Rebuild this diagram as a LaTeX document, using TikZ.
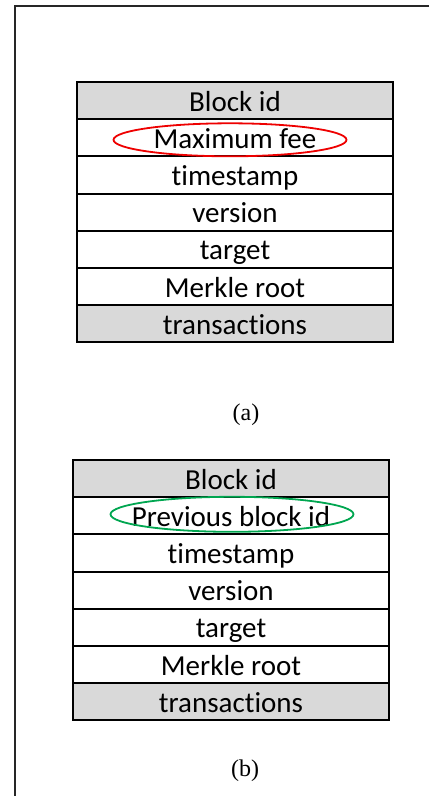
\documentclass[tikz,border=0pt]{standalone}
\usepackage{fontspec}
\setmainfont{Liberation Serif}
\newfontfamily\calfont[Ligatures=NoCommon]{Carlito}
\usetikzlibrary{positioning}
\definecolor{hdrgray}{HTML}{D9D9D9}
\definecolor{ringred}{HTML}{EE0000}
\definecolor{ringgreen}{HTML}{00A650}
\tikzset{
  field/.style={draw=black, line width=2pt, minimum width=316pt,
    minimum height=37.2pt, inner sep=0pt, outer sep=0pt,
    text height=24pt, text depth=3pt, font=\calfont\fontsize{29}{30}\selectfont},
  shaded/.style={field, fill=hdrgray},
  ring/.style={line width=1.8pt},
  caption/.style={font=\fontsize{24}{25}\selectfont}
}

\begin{document}
\begin{tikzpicture}[x=1pt, y=-1pt]
\useasboundingbox (0,0) rectangle (429,796);
\draw[line width=2.2pt, black!85] (429,6) -- (15,6) -- (15,796);

% block (a)
\node[shaded] (a1) at (235,100.6) {Block id};
\node[field, below=0pt of a1] (a2) {Maximum fee};
\node[field, below=0pt of a2] (a3) {timestamp};
\node[field, below=0pt of a3] (a4) {version};
\node[field, below=0pt of a4] (a5) {target};
\node[field, below=0pt of a5] (a6) {Merkle root};
\node[shaded, below=0pt of a6] (a7) {transactions};
\draw[ring, ringred] ([xshift=-5pt, yshift=-2pt]a2.center) ellipse (116.5pt and 16.5pt);
\node[caption] (capa) at (246,414.5) {(a)};

% block (b)
\node[shaded] (b1) at (231,478.6) {Block id};
\node[field, below=0pt of b1] (b2) {Previous block id};
\node[field, below=0pt of b2] (b3) {timestamp};
\node[field, below=0pt of b3] (b4) {version};
\node[field, below=0pt of b4] (b5) {target};
\node[field, below=0pt of b5] (b6) {Merkle root};
\node[shaded, below=0pt of b6] (b7) {transactions};
\draw[ring, ringgreen] ([xshift=1pt, yshift=1.5pt]b2.center) ellipse (121.5pt and 17.5pt);
\node[caption] (capb) at (245,770.5) {(b)};
\end{tikzpicture}
\end{document}
